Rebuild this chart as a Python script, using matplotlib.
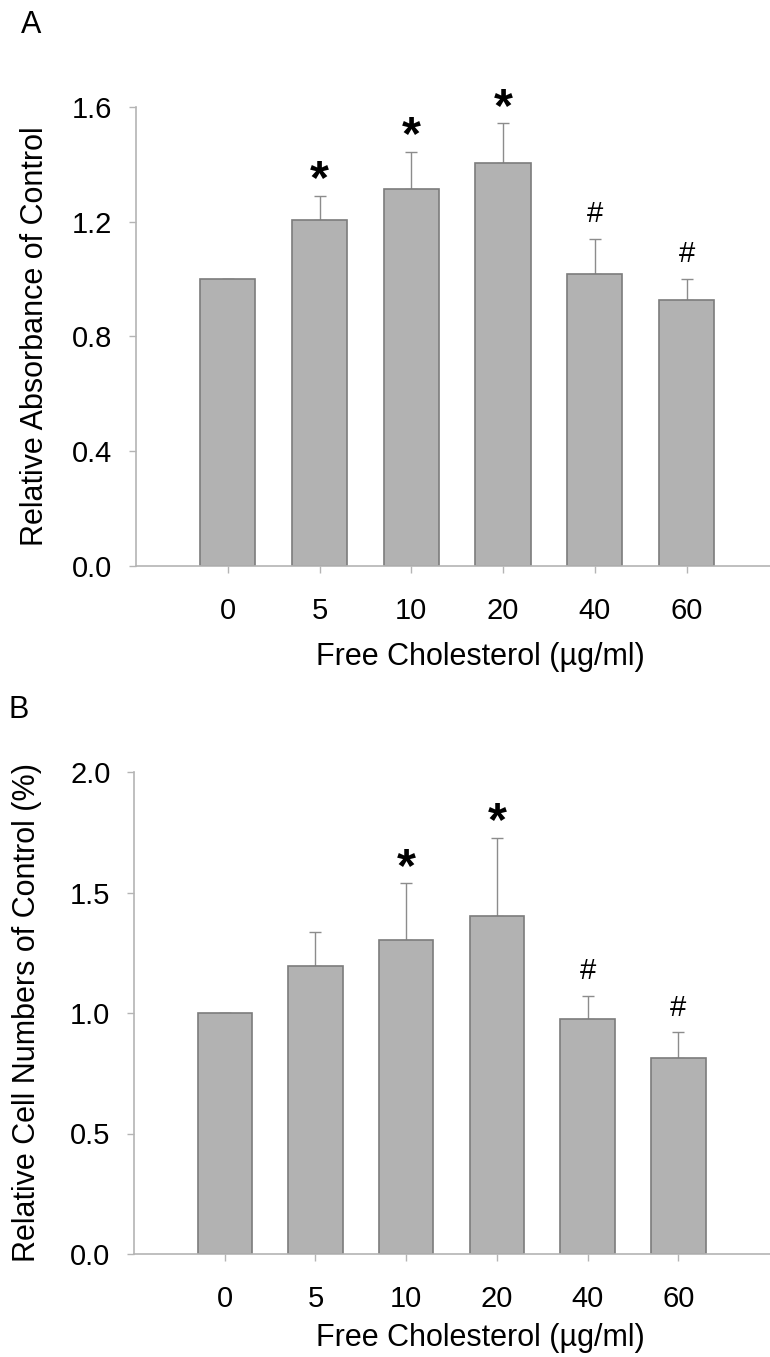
import matplotlib
matplotlib.use("Agg")
import matplotlib.pyplot as plt
import numpy as np

plt.rcParams['font.family'] = ['Liberation Sans', 'DejaVu Sans']

categories = ["0", "5", "10", "20", "40", "60"]

# Panel A
absorbance = [1.00, 1.205, 1.314, 1.404, 1.017, 0.926]
absorbance_err = [0.0, 0.084, 0.129, 0.139, 0.124, 0.075]
absorbance_marks = ["", "*", "*", "*", "#", "#"]

# Panel B
cell_numbers = [1.00, 1.196, 1.302, 1.403, 0.976, 0.814]
cell_numbers_err = [0.0, 0.139, 0.236, 0.322, 0.094, 0.106]
cell_numbers_marks = ["", "", "*", "*", "#", "#"]

xlabel = "Free Cholesterol (\u00b5g/ml)"
ylabel_a = "Relative Absorbance of Control"
ylabel_b = "Relative Cell Numbers of Control (%)"

BAR_FC = "#b2b2b2"
BAR_EC = "#7c7c7c"
ERR_C = "#8c8c8c"
SPINE_C = "#b4b4b4"
FS = 21

fig = plt.figure(figsize=(7.7, 13.57), dpi=100)
W, H = 770.0, 1357.0

def make_axes(left, right, top, bottom):
    return fig.add_axes([left / W, 1 - bottom / H, (right - left) / W, (bottom - top) / H])

def draw_panel(ax, vals, errs, marks, ymax, yticks, ylabel, xlim):
    x = np.arange(len(categories))
    ax.bar(x, vals, width=0.6, color=BAR_FC, edgecolor=BAR_EC, linewidth=1.2, zorder=2)
    ax.errorbar(x, vals, yerr=[np.zeros(len(errs)), errs], fmt='none',
                ecolor=ERR_C, elinewidth=1.0, capsize=4.5, capthick=1.0, zorder=1)
    for xi, v, e, m in zip(x, vals, errs, marks):
        if m == "*":
            ax.annotate(m, xy=(xi, v + e), xytext=(0, 2), textcoords='offset points',
                        ha='center', va='baseline', fontsize=35, fontweight='bold')
        elif m == "#":
            ax.annotate(m, xy=(xi, v + e), xytext=(0, 12), textcoords='offset points',
                        ha='center', va='baseline', fontsize=21)
    ax.set_xlim(*xlim)
    ax.set_ylim(0, ymax)
    ax.set_yticks(yticks)
    ax.set_yticklabels([f"{t:.1f}" for t in yticks])
    ax.set_xticks(x)
    ax.set_xticklabels(categories)
    for s in ['top', 'right']:
        ax.spines[s].set_visible(False)
    for s in ['left', 'bottom']:
        ax.spines[s].set_color(SPINE_C)
        ax.spines[s].set_linewidth(1.2)
    ax.tick_params(axis='y', colors=SPINE_C, labelcolor='black', labelsize=FS,
                   length=5, width=1.0, pad=12)
    ax.tick_params(axis='x', colors=SPINE_C, labelcolor='black', labelsize=FS,
                   length=5, width=1.0, pad=17)
    ax.set_ylabel(ylabel, fontsize=22)
    ax.set_xlabel(xlabel, fontsize=22)

axA = make_axes(136, 770, 107, 566)
draw_panel(axA, absorbance, absorbance_err, absorbance_marks, 1.6,
           [0.0, 0.4, 0.8, 1.2, 1.6], ylabel_a, (-1.0, 5.91))
axA.yaxis.set_label_coords(-0.135, 0.5)
axA.xaxis.set_label_coords((480 - 136) / 634, -0.165)

axB = make_axes(134, 770, 772, 1254)
draw_panel(axB, cell_numbers, cell_numbers_err, cell_numbers_marks, 2.0,
           [0.0, 0.5, 1.0, 1.5, 2.0], ylabel_b, (-1.0, 6.01))
axB.yaxis.set_label_coords(-0.145, 0.5)
axB.xaxis.set_label_coords((480 - 134) / 636, -0.143)

fig.text(31 / W, 1 - 25 / H, "A", fontsize=22, ha='center', va='center')
fig.text(19 / W, 1 - 710 / H, "B", fontsize=22, ha='center', va='center')

fig.savefig("out.png", dpi=100)
